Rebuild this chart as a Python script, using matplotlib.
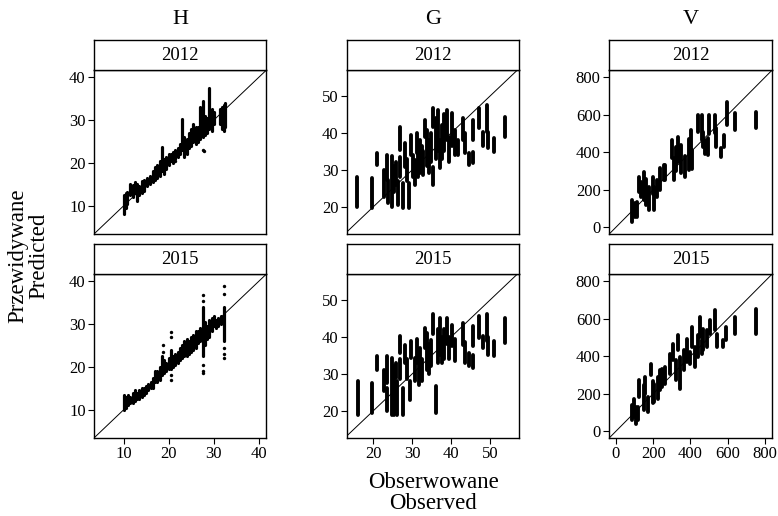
import matplotlib.pyplot as plt

plt.rcParams['font.family'] = ['Liberation Serif', 'DejaVu Serif']

# Column headers and facet years
columns = ['H', 'G', 'V']
years = ['2012', '2015']

# Each streak: (observed, predicted low, predicted high)
h_2012 = [(10.0, 8.0, 12.5), (10.4, 9.5, 13.0), (10.8, 10.5, 13.2), (11.5, 12.5, 15.0),
          (12.0, 12.0, 14.8), (12.5, 13.0, 15.5), (13.0, 11.0, 15.0), (13.5, 12.5, 14.5),
          (14.0, 13.0, 15.8), (14.5, 13.5, 16.0), (15.2, 14.5, 16.5), (15.8, 15.0, 17.0),
          (16.5, 15.5, 18.0), (17.0, 16.0, 19.0), (17.5, 16.5, 19.5), (18.0, 17.0, 20.5),
          (18.5, 18.0, 23.8), (19.0, 17.5, 21.0), (19.5, 18.5, 21.5), (20.0, 19.5, 22.0),
          (20.5, 20.5, 22.0), (21.0, 20.0, 22.5), (21.5, 21.0, 23.0), (22.0, 21.5, 23.5),
          (22.5, 22.0, 24.5), (23.0, 23.0, 30.3), (23.5, 21.5, 26.0), (24.0, 22.0, 25.5),
          (24.5, 23.5, 27.0), (25.0, 24.0, 28.0), (25.5, 25.0, 29.0), (26.0, 24.5, 28.5),
          (26.5, 25.0, 28.5), (27.0, 25.5, 33.0), (27.5, 26.0, 34.5), (28.0, 26.5, 31.0),
          (28.5, 27.0, 30.5), (29.0, 28.0, 37.5), (29.5, 27.5, 32.5), (30.0, 29.0, 32.0),
          (31.3, 29.0, 32.5), (31.8, 28.0, 33.0), (32.2, 27.5, 33.5), (32.6, 28.5, 34.0)]
h_2012_dots = [(27.6, 23.0), (27.9, 22.7), (21.5, 20.5)]

h_2015 = [(10.0, 10.0, 13.5), (10.4, 10.5, 13.0), (11.0, 11.0, 13.5), (11.5, 11.5, 13.0),
          (12.0, 11.5, 14.0), (12.5, 12.0, 14.5), (13.0, 12.5, 14.0), (13.5, 12.5, 14.5),
          (14.0, 13.0, 15.0), (14.5, 13.5, 15.0), (15.0, 14.0, 15.5), (15.5, 14.5, 16.0),
          (16.0, 15.0, 16.5), (16.5, 15.0, 17.5), (17.0, 16.5, 19.0), (17.5, 16.5, 19.0),
          (18.0, 17.0, 20.0), (18.5, 18.0, 22.5), (19.0, 18.5, 21.5), (19.5, 19.0, 21.0),
          (20.0, 19.5, 22.0), (20.5, 19.5, 24.0), (21.0, 20.0, 22.5), (21.5, 20.5, 23.0),
          (22.0, 21.0, 23.5), (22.5, 21.5, 24.5), (23.0, 22.0, 25.0), (23.5, 22.5, 26.0),
          (24.0, 22.5, 26.5), (24.5, 23.0, 26.0), (25.0, 23.5, 27.0), (25.5, 24.0, 27.5),
          (26.0, 24.5, 28.5), (26.5, 25.5, 28.5), (27.0, 26.0, 29.0), (27.5, 22.5, 34.0),
          (28.0, 25.0, 30.5), (28.5, 26.5, 29.5), (29.0, 27.0, 31.0), (29.5, 28.5, 31.5),
          (30.0, 29.5, 32.0), (30.5, 29.0, 31.0), (31.0, 29.5, 31.5), (31.5, 30.0, 32.0),
          (32.2, 26.0, 34.0)]
h_2015_dots = [(27.5, 36.7), (27.5, 35.5), (27.5, 20.5), (27.5, 19.0), (27.5, 18.5),
               (32.2, 39.0), (32.2, 37.0), (32.2, 24.5), (32.2, 23.0), (32.2, 22.0),
               (18.8, 25.1), (18.8, 23.5), (20.5, 28.2), (20.5, 27.0), (20.5, 18.0), (20.5, 17.0)]

g_2012 = [(15.9, 20.0, 28.1), (19.7, 19.6, 27.7), (21.0, 31.3, 34.6), (22.8, 22.7, 29.9),
          (23.4, 27.2, 34.0), (23.8, 20.9, 27.2), (24.7, 20.0, 33.6), (25.2, 24.0, 31.0),
          (25.8, 26.0, 32.0), (26.3, 20.5, 27.0), (26.8, 35.4, 41.7), (26.8, 28.0, 33.5),
          (27.7, 19.6, 26.3), (28.1, 30.8, 37.2), (28.6, 27.0, 33.0), (29.2, 19.6, 26.3),
          (29.7, 34.0, 39.4), (30.2, 28.0, 34.0), (30.7, 25.9, 32.7), (31.1, 34.5, 39.9),
          (31.5, 28.1, 36.0), (32.0, 29.0, 38.1), (32.4, 30.0, 36.5), (32.8, 28.5, 35.0),
          (33.3, 39.0, 43.5), (33.7, 31.0, 40.8), (34.2, 29.0, 38.0), (34.7, 32.0, 40.0),
          (35.2, 41.7, 46.7), (35.4, 25.9, 30.8), (36.0, 33.0, 44.0), (36.5, 35.0, 46.2),
          (37.0, 30.4, 38.1), (37.5, 33.0, 42.0), (38.0, 35.0, 45.0), (38.8, 38.1, 46.2),
          (39.3, 32.0, 39.0), (40.1, 36.3, 45.3), (41.0, 34.0, 40.8), (41.8, 34.0, 38.0),
          (42.9, 38.1, 43.9), (43.5, 34.5, 39.9), (44.6, 31.3, 34.5), (45.5, 31.8, 34.9),
          (45.5, 38.1, 43.5), (47.0, 41.2, 46.7), (48.1, 36.3, 40.3), (49.1, 40.3, 47.6),
          (49.5, 35.8, 40.3), (51.1, 34.9, 38.5), (53.8, 39.0, 44.4)]

g_2015 = [(16.0, 18.9, 28.0), (19.7, 19.4, 27.5), (20.9, 31.1, 34.8), (22.8, 25.2, 31.1),
          (23.4, 27.5, 34.8), (23.6, 19.8, 26.2), (24.7, 18.9, 34.3), (25.3, 18.9, 32.0),
          (25.8, 28.9, 33.0), (26.1, 18.9, 28.0), (26.9, 35.7, 40.2), (26.9, 28.5, 34.0),
          (27.7, 18.9, 26.2), (28.1, 33.0, 37.9), (28.5, 28.5, 34.0), (29.4, 23.0, 28.0),
          (29.7, 34.3, 38.8), (30.7, 28.0, 34.3), (31.1, 33.0, 39.5), (31.6, 27.0, 35.0),
          (32.0, 29.0, 37.0), (32.5, 28.0, 34.0), (33.3, 37.0, 42.5), (33.7, 31.0, 41.0),
          (34.2, 30.0, 38.0), (34.7, 32.0, 39.0), (35.3, 40.7, 46.1), (36.1, 19.4, 26.6),
          (36.5, 33.0, 42.0), (37.0, 35.0, 45.0), (37.5, 33.0, 40.0), (38.0, 34.0, 42.0),
          (38.8, 38.0, 45.0), (39.5, 34.0, 40.0), (40.1, 37.5, 43.3), (41.0, 33.5, 39.5),
          (43.0, 37.9, 43.8), (43.5, 33.0, 38.5), (44.6, 32.0, 35.7), (45.5, 31.6, 35.2),
          (45.5, 37.5, 42.9), (47.2, 39.8, 45.6), (48.1, 37.0, 40.2), (49.1, 38.8, 46.1),
          (49.5, 35.0, 40.0), (51.1, 34.8, 38.8), (53.8, 38.4, 45.2)]

v_2012 = [(88, 30, 146), (100, 57, 128), (112, 57, 137), (123, 190, 270), (135, 160, 240),
          (153, 146, 297), (162, 120, 255), (179, 92, 217), (197, 180, 270), (206, 92, 217),
          (218, 160, 250), (236, 199, 315), (258, 252, 332), (266, 250, 330), (299, 368, 466),
          (311, 252, 368), (320, 300, 430), (334, 350, 484), (352, 290, 440), (369, 270, 380),
          (390, 306, 470), (404, 420, 519), (411, 310, 410), (443, 510, 599), (460, 466, 599),
          (469, 430, 510), (478, 390, 466), (496, 385, 475), (501, 500, 599), (531, 501, 599),
          (540, 430, 530), (566, 377, 421), (578, 430, 492), (598, 546, 670), (641, 519, 608),
          (750, 528, 617)]

v_2015 = [(88, 59, 139), (97, 76, 174), (109, 41, 130), (118, 59, 130), (123, 183, 272),
          (150, 112, 245), (158, 201, 290), (171, 103, 183), (188, 299, 361), (197, 148, 270),
          (206, 156, 254), (224, 174, 290), (236, 219, 325), (250, 236, 334), (264, 254, 343),
          (293, 308, 414), (306, 379, 468), (320, 272, 379), (334, 432, 512), (346, 228, 396),
          (364, 325, 432), (381, 370, 494), (399, 361, 423), (408, 450, 556), (425, 343, 450),
          (439, 396, 512), (452, 503, 610), (460, 414, 485), (469, 432, 547), (487, 450, 538),
          (504, 521, 592), (534, 539, 645), (545, 450, 521), (575, 450, 485), (589, 485, 556),
          (641, 521, 610), (750, 521, 654)]

panel_data = {('H', '2012'): (h_2012, h_2012_dots), ('H', '2015'): (h_2015, h_2015_dots),
              ('G', '2012'): (g_2012, []), ('G', '2015'): (g_2015, []),
              ('V', '2012'): (v_2012, []), ('V', '2015'): (v_2015, [])}

# Axis ranges and ticks per column
xlims = {'H': (3.4, 41.6), 'G': (13.2, 57.4), 'V': (-37, 838)}
ylims = {'H': (3.4, 41.7), 'G': (12.6, 57.0), 'V': (-36, 839)}
xticks = {'H': [10, 20, 30, 40], 'G': [20, 30, 40, 50], 'V': [0, 200, 400, 600, 800]}
yticks = {'H': [10, 20, 30, 40], 'G': [20, 30, 40, 50], 'V': [0, 200, 400, 600, 800]}
line_w = {'H': 2.3, 'G': 2.8, 'V': 2.8}

fig = plt.figure(figsize=(7.78, 5.16), dpi=100)

# Panel layout (figure fractions)
col_left = {'H': 0.1208, 'G': 0.446, 'V': 0.7828}
col_width = {'H': 0.2211, 'G': 0.2211, 'V': 0.2095}
row_bottom = {'2012': 0.5465, '2015': 0.1512}
panel_h = 0.3178
strip_h = 0.0575

for col in columns:
    for yr in years:
        ax = fig.add_axes([col_left[col], row_bottom[yr], col_width[col], panel_h])
        streaks, dots = panel_data[(col, yr)]
        xs = [s[0] for s in streaks]
        lo = [s[1] for s in streaks]
        hi = [s[2] for s in streaks]
        ax.vlines(xs, lo, hi, color='black', linewidth=line_w[col], capstyle='round')
        if dots:
            ax.scatter([d[0] for d in dots], [d[1] for d in dots], s=6, color='black', linewidths=0)
        ax.axline((0, 0), slope=1, color='black', linewidth=0.7)
        ax.set_xlim(xlims[col])
        ax.set_ylim(ylims[col])
        ax.set_yticks(yticks[col])
        ax.set_xticks(xticks[col])
        if yr == '2012':
            ax.tick_params(axis='x', bottom=False, labelbottom=False)
        ax.tick_params(direction='out', length=4, width=0.8, labelsize=12, colors='black', pad=2)
        for sp in ax.spines.values():
            sp.set_linewidth(1.0)

        # facet strip
        sax = fig.add_axes([col_left[col], row_bottom[yr] + panel_h, col_width[col], strip_h])
        sax.set_xticks([])
        sax.set_yticks([])
        for sp in sax.spines.values():
            sp.set_linewidth(1.0)
        sax.text(0.5, 0.5, yr, ha='center', va='center', fontsize=13.5, transform=sax.transAxes)

    # column header
    fig.text(col_left[col] + col_width[col] / 2, 0.963, col, ha='center', va='center', fontsize=16)

fig.text(0.557, 0.045, 'Obserwowane\nObserved', ha='center', va='center', fontsize=16.5, linespacing=1.0)
fig.text(0.036, 0.505, 'Przewidywane\nPredicted', ha='center', va='center', fontsize=16.5,
         rotation=90, linespacing=1.0)

plt.savefig('out.png', dpi=100)
